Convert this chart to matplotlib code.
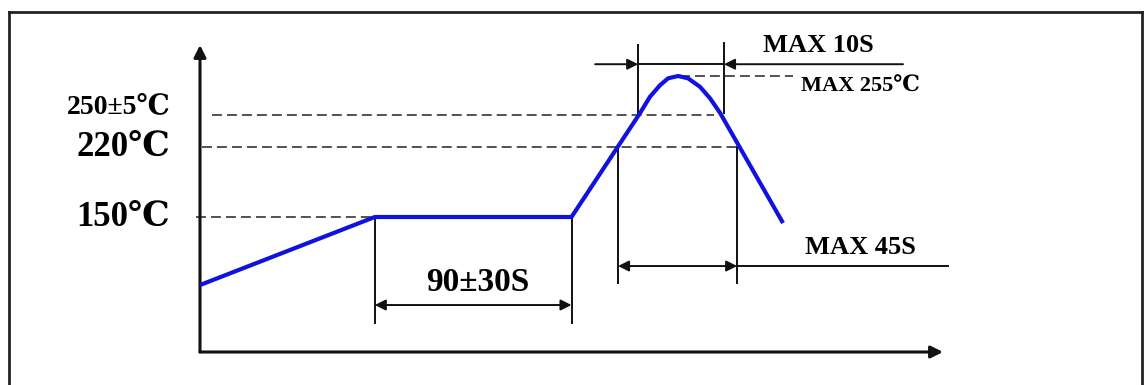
import numpy as np
import matplotlib
matplotlib.use("Agg")
import matplotlib.pyplot as plt
from matplotlib.lines import Line2D

# reflow profile, time in s (schematic) and temperature in degC
time = [0, 80, 170, 201.4, 205.9, 210.5, 214.2, 218.8, 223.3, 228.8, 233.4, 238.0, 266.8]
temp = [87, 150, 150, 250.2, 252.3, 253.8, 254.7, 255.0, 254.7, 253.6, 252.1, 250.2, 144.4]

levels = [150, 220, 250]
level_labels = ["150℃", "220℃", "250±5℃"]
peak_temp = 255
soak_start, soak_end = 80, 170
liq_start, liq_end = 191.3, 245.8
top_start, top_end = 200.5, 239.8

# drawing is not to scale: piecewise mapping of temperature to height
T_ANCH = [-100, 25, 150, 220, 250, 255, 260, 400]
H_ANCH = [-135, 0, 135, 205, 237.5, 276, 307, 1175]


def fwd(T):
    return np.interp(T, T_ANCH, H_ANCH)


def inv(h):
    return np.interp(h, H_ANCH, T_ANCH)


W, H = 1147, 385
fig = plt.figure(figsize=(W / 100, H / 100), dpi=100)
ax = fig.add_axes([200 / W, 33 / H, 743 / W, 307 / H])
ax.set_yscale("function", functions=(fwd, inv))
ax.set_xlim(0, 340)
ax.set_ylim(25, 260)
for s in ax.spines.values():
    s.set_visible(False)
ax.set_xticks([])
ax.set_yticks([])
ax.yaxis.set_minor_locator(plt.NullLocator())

serif = ["Liberation Serif", "DejaVu Serif"]

# frame round the picture
frame = dict(color="#222222", lw=2.0, transform=fig.transFigure)
fig.add_artist(Line2D([9 / W, 9 / W], [0, 1 - 12 / H], **frame))
fig.add_artist(Line2D([1142 / W, 1142 / W], [0, 1 - 12 / H], **frame))
fig.add_artist(Line2D([9 / W, 1142 / W], [1 - 12 / H, 1 - 12 / H], **frame))

# axes with arrows
for end in [(1, 0), (0, 1)]:
    ax.annotate("", xy=end, xytext=(0, 0), xycoords="axes fraction",
                arrowprops=dict(arrowstyle="-|>", lw=2.2, color="#111111",
                                mutation_scale=18, shrinkA=0, shrinkB=0))

dash = dict(color="#444444", lw=1.3, dashes=(5.5, 2.8), clip_on=False)
ax.plot([-2, soak_start], [150, 150], **dash)
ax.plot([1, liq_end], [220, 220], **dash)
ax.plot([5.5, 235], [250, 250], **dash)
ax.plot([219.5, 271.4], [peak_temp, peak_temp], **dash)

# profile curve
ax.plot(time, temp, color="#1212e0", lw=3.0, solid_joinstyle="round",
        solid_capstyle="butt", clip_on=False, zorder=5)

ln = dict(color="#111111", lw=1.4, clip_on=False)
arr = dict(lw=1.4, color="#111111", mutation_scale=16, shrinkA=0, shrinkB=0)

# soak time
ax.plot([soak_start, soak_start], [150, 51.9], **ln)
ax.plot([soak_end, soak_end], [150, 51.9], **ln)
ax.annotate("", xy=(soak_end, 68.5), xytext=(soak_start, 68.5),
            arrowprops=dict(arrowstyle="<|-|>", **arr))
ax.text(127.2, 89.8, "90±30S", ha="center", va="center", fontsize=24,
        fontweight="bold", family=serif)

# time above liquidus
ax.plot([liq_start, liq_start], [220, 88.9], **ln)
ax.plot([liq_end, liq_end], [220, 88.9], **ln)
ax.annotate("", xy=(liq_end, 104.6), xytext=(liq_start, 104.6),
            arrowprops=dict(arrowstyle="<|-|>", **arr))
ax.plot([liq_end, 342.3], [104.6, 104.6], **ln)
ax.text(302.1, 121.3, "MAX 45S", ha="center", va="center", fontsize=19,
        fontweight="bold", family=serif)

# time near peak
ax.plot([top_start, top_start], [250.2, 260.0], **ln)
ax.plot([top_end, top_end], [250.2, 260.3], **ln)
ax.annotate("", xy=(top_start, 256.9), xytext=(180.8, 256.9),
            arrowprops=dict(arrowstyle="-|>", **arr))
ax.annotate("", xy=(top_end, 256.9), xytext=(321.7, 256.9),
            arrowprops=dict(arrowstyle="-|>", **arr))
ax.plot([top_start, top_end], [256.9, 256.9], **ln)
ax.text(282.8, 260.0, "MAX 10S", ha="center", va="center", fontsize=19,
        fontweight="bold", family=serif)
ax.text(302.0, 253.6, "MAX 255℃", ha="center", va="center", fontsize=16,
        fontweight="bold", family=serif)

# temperature labels
lab_tr = ax.get_yaxis_transform()
label_y = [150, 220, 251.0]
sizes = [25, 25, 20]
for yv, txt, fs in zip(label_y, level_labels, sizes):
    ax.text(-0.04, yv, txt, transform=lab_tr, ha="right", va="center",
            fontsize=fs, fontweight="bold", family=serif)

fig.savefig("out.png", dpi=100)
